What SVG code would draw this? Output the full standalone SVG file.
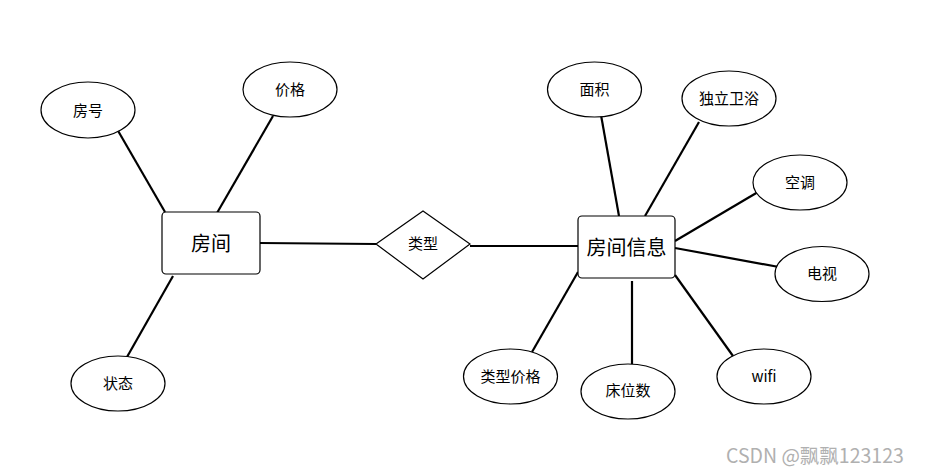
<svg xmlns="http://www.w3.org/2000/svg" width="925" height="473" viewBox="0 0 925 473">
<style>
.bg{fill:#fff}
.ell{fill:#fff;stroke:#000;stroke-width:1.2}
.box{fill:#fff;stroke:#000;stroke-width:1.2}
.ln{stroke:#000;stroke-width:2.2;fill:none}
text{font-family:"Noto Sans CJK SC","Liberation Sans",sans-serif;fill:#000;text-anchor:middle;dominant-baseline:central}
.s{font-size:15px}
.b{font-size:20px}
.wm{font-size:19.5px;fill:#b0b0b0;text-anchor:start}
</style>
<rect class="bg" x="0" y="0" width="925" height="473"/>
<g id="connectors">
<line class="ln" x1="117" y1="129" x2="165" y2="212"/>
<line class="ln" x1="273" y1="116" x2="217" y2="213"/>
<line class="ln" x1="173" y1="276" x2="127" y2="357"/>
<line class="ln" x1="260" y1="243" x2="376" y2="244"/>
<line class="ln" x1="470" y1="246" x2="578" y2="246"/>
<line class="ln" x1="601" y1="115" x2="619" y2="216"/>
<line class="ln" x1="699" y1="122" x2="645" y2="216"/>
<line class="ln" x1="758" y1="192" x2="675" y2="241"/>
<line class="ln" x1="675" y1="248" x2="779" y2="267"/>
<line class="ln" x1="578" y1="272" x2="532" y2="352"/>
<line class="ln" x1="632" y1="281" x2="632" y2="364"/>
<line class="ln" x1="675" y1="275" x2="733" y2="356"/>
</g>
<g id="room">
<rect class="box" x="162" y="212" width="98" height="62" rx="4"/>
<text class="b" x="211" y="242">房间</text>
</g>
<g id="room_no">
<ellipse class="ell" cx="88" cy="110" rx="47" ry="28"/>
<text class="s" x="88" y="109">房号</text>
</g>
<g id="price">
<ellipse class="ell" cx="290" cy="89.5" rx="47" ry="27.5"/>
<text class="s" x="290" y="88">价格</text>
</g>
<g id="status">
<ellipse class="ell" cx="118" cy="383.5" rx="47" ry="27.5"/>
<text class="s" x="118" y="382">状态</text>
</g>
<g id="type">
<polygon class="box" points="376,244 423,211 470,244 423,279"/>
<text class="s" x="423" y="242">类型</text>
</g>
<g id="room_info">
<rect class="box" x="578" y="216" width="97" height="62" rx="4"/>
<text class="b" x="626.5" y="246">房间信息</text>
</g>
<g id="area">
<ellipse class="ell" cx="594.5" cy="89.5" rx="47" ry="27.5"/>
<text class="s" x="594.5" y="88">面积</text>
</g>
<g id="bath">
<ellipse class="ell" cx="729" cy="98.5" rx="47" ry="27.5"/>
<text class="s" x="729" y="97">独立卫浴</text>
</g>
<g id="ac">
<ellipse class="ell" cx="800" cy="182.5" rx="47" ry="27.5"/>
<text class="s" x="800" y="181">空调</text>
</g>
<g id="tv">
<ellipse class="ell" cx="822" cy="274" rx="47" ry="27.5"/>
<text class="s" x="822" y="272">电视</text>
</g>
<g id="type_price">
<ellipse class="ell" cx="510.5" cy="376.5" rx="47" ry="27.5"/>
<text class="s" x="510.5" y="375">类型价格</text>
</g>
<g id="beds">
<ellipse class="ell" cx="628" cy="391.5" rx="47" ry="27.5"/>
<text class="s" x="628" y="389">床位数</text>
</g>
<g id="wifi">
<ellipse class="ell" cx="764" cy="376.5" rx="47" ry="27.5"/>
<text class="s" x="764" y="375">wifi</text>
</g>
<text class="wm" x="726" y="454">CSDN @飘飘123123</text>
</svg>
